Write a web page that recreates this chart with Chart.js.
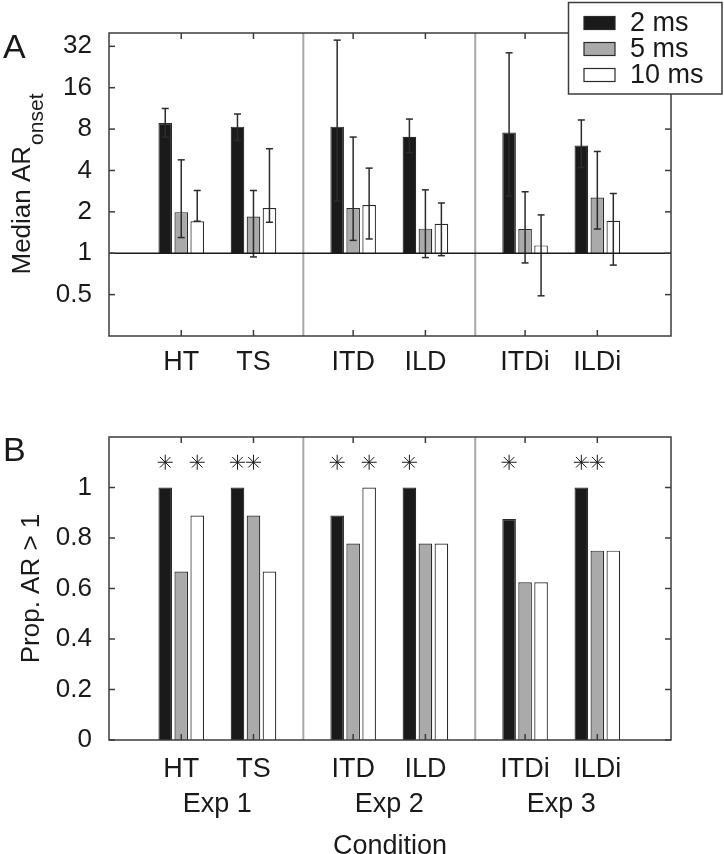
<!DOCTYPE html>
<html>
<head>
<meta charset="utf-8">
<title>Median AR onset and proportion AR > 1</title>
<script src="https://cdn.jsdelivr.net/npm/chart.js@4.4.1/dist/chart.umd.min.js"></script>
<style>
  html, body { margin: 0; padding: 0; background: #fff; }
  #wrap { position: relative; width: 724px; height: 854px; overflow: hidden; }
  canvas { position: absolute; left: 0; display: block; }
  #chartA { top: 0; }
  #chartB { top: 380px; }
</style>
</head>
<body>
<div id="wrap">
  <canvas id="chartA" width="724" height="380"></canvas>
  <canvas id="chartB" width="724" height="474"></canvas>
</div>
<script>
var FONT = "'Liberation Sans', Arial, Helvetica, sans-serif";
var INK = '#1a1a1a';
var AXIS = '#3c3c3c';

// conditions along x, grouped by experiment
var conditions = ['HT', 'TS', 'ITD', 'ILD', 'ITDi', 'ILDi'];
var condPos = [1, 2, 3.38, 4.38, 5.76, 6.76];
var experiments = ['Exp 1', 'Exp 2', 'Exp 3'];
var expPos = [1.5, 3.88, 6.26];
var expSplit = [2.69, 5.07];
var xMax = 7.78;

var seriesLabels = ['2 ms', '5 ms', '10 ms'];
var seriesFill = ['#1a1a1a', '#aaaaaa', '#ffffff'];

// panel A: median AR onset (log axis) with error bars
var median2 = [8.86, 8.33, 8.33, 7.04, 7.57, 6.08];
var median5 = [1.99, 1.85, 2.13, 1.51, 1.50, 2.54];
var median10 = [1.71, 2.13, 2.24, 1.64, 1.14, 1.72];
var errHi2 = [11.3, 10.3, 35.5, 9.46, 28.7, 9.32];
var errLo2 = [7.0, 6.6, 2.4, 5.4, 2.6, 4.2];
var errHi5 = [4.78, 2.86, 7.0, 2.89, 2.80, 5.5];
var errLo5 = [1.30, 0.94, 1.24, 0.93, 0.85, 1.50];
var errHi10 = [2.86, 5.76, 4.16, 2.32, 1.90, 2.72];
var errLo10 = [1.71, 1.68, 1.27, 0.96, 0.49, 0.82];
var yTicksA = [0.5, 1, 2, 4, 8, 16, 32];

// panel B: proportion AR > 1, asterisks mark significance
var prop2 = [1, 1, 0.889, 1, 0.875, 1];
var prop5 = [0.667, 0.889, 0.778, 0.778, 0.625, 0.75];
var prop10 = [0.889, 0.667, 1, 0.778, 0.625, 0.75];
var sig2 = [1, 1, 1, 1, 1, 1];
var sig5 = [0, 1, 0, 0, 0, 1];
var sig10 = [1, 0, 1, 0, 0, 0];
var yTicksB = [0, 0.2, 0.4, 0.6, 0.8, 1];
var starLevel = 1.1;

Chart.defaults.font.family = FONT;
Chart.defaults.color = INK;
Chart.defaults.animation = false;

function pts(vals) {
  return vals.map(function (v, i) { return { x: condPos[i], y: v }; });
}

function ticksAt(list) {
  return function (scale) {
    scale.ticks = list.map(function (v) { return { value: v }; });
  };
}

function line(ctx, x1, y1, x2, y2) {
  ctx.beginPath();
  ctx.moveTo(x1, y1);
  ctx.lineTo(x2, y2);
  ctx.stroke();
}

var barStyle = {
  borderColor: '#2a2a2a',
  borderWidth: 1.2,
  categoryPercentage: 0.664,
  barPercentage: 0.85
};

function makeSet(i, vals, extra) {
  return Object.assign({
    label: seriesLabels[i],
    data: pts(vals),
    backgroundColor: seriesFill[i]
  }, barStyle, extra);
}

function condAxis(pad) {
  return {
    type: 'linear', min: 0, max: xMax, offset: false,
    grid: { display: false, offset: false },
    border: { display: false },
    afterBuildTicks: ticksAt(condPos),
    afterFit: function (s) { s.height = 44; },
    ticks: {
      autoSkip: false, maxRotation: 0, padding: pad,
      font: { size: 27 },
      callback: function (v, i) { return conditions[i]; }
    }
  };
}

var panelPlugin = {
  id: 'panel',
  beforeDatasetsDraw: function (chart) {
    var a = chart.chartArea, ctx = chart.ctx, x = chart.scales.x;
    ctx.save();
    ctx.strokeStyle = '#a8a8a8';
    ctx.lineWidth = 2;
    expSplit.forEach(function (v) {
      var px = x.getPixelForValue(v);
      line(ctx, px, a.top, px, a.bottom);
    });
    ctx.restore();
  },
  afterDatasetsDraw: function (chart, args, opts) {
    var a = chart.chartArea, ctx = chart.ctx, x = chart.scales.x, y = chart.scales.y;
    ctx.save();
    chart.data.datasets.forEach(function (ds, di) {
      chart.getDatasetMeta(di).data.forEach(function (bar, i) {
        if (ds.errHi) {
          var top = y.getPixelForValue(ds.errHi[i]);
          var bot = y.getPixelForValue(ds.errLo[i]);
          ctx.strokeStyle = '#2b2b2b';
          ctx.lineWidth = 1.5;
          line(ctx, bar.x, top, bar.x, bot);
          line(ctx, bar.x - 3.5, top, bar.x + 3.5, top);
          line(ctx, bar.x - 3.5, bot, bar.x + 3.5, bot);
        }
        if (ds.sig && ds.sig[i]) {
          ctx.strokeStyle = INK;
          ctx.fillStyle = INK;
          Chart.helpers.drawPoint(ctx, { pointStyle: 'star', radius: 7.5, borderWidth: 2, rotation: 0 },
            bar.x, y.getPixelForValue(starLevel));
        }
      });
    });
    if (opts.refLine) {
      var ry = y.getPixelForValue(opts.refLine);
      ctx.strokeStyle = INK;
      ctx.lineWidth = 1.5;
      line(ctx, a.left, ry, a.right, ry);
    }
    // box and inward tick marks
    ctx.strokeStyle = AXIS;
    ctx.lineWidth = 1.5;
    ctx.strokeRect(a.left, a.top, a.width, a.height);
    var L = 6;
    x.ticks.forEach(function (t, i) {
      var px = x.getPixelForTick(i);
      line(ctx, px, a.top, px, a.top + L);
      line(ctx, px, a.bottom, px, a.bottom - L);
    });
    y.ticks.forEach(function (t, i) {
      var py = y.getPixelForTick(i);
      line(ctx, a.left, py, a.left + L, py);
      line(ctx, a.right, py, a.right - L, py);
    });
    ctx.restore();
  },
  afterDraw: function (chart, args, opts) {
    var a = chart.chartArea, ctx = chart.ctx;
    ctx.save();
    ctx.fillStyle = INK;
    ctx.textBaseline = 'alphabetic';
    ctx.textAlign = 'left';
    ctx.font = '34px ' + FONT;
    ctx.fillText(opts.letter, 3, opts.letterY);

    if (opts.yTitle) {
      var main = opts.yTitle[0], sub = opts.yTitle[1];
      ctx.font = '26px ' + FONT;
      var w1 = ctx.measureText(main).width;
      ctx.font = '21px ' + FONT;
      var w2 = ctx.measureText(sub).width;
      ctx.translate(29.5, (a.top + a.bottom) / 2);
      ctx.rotate(-Math.PI / 2);
      var x0 = -(w1 + w2) / 2;
      ctx.font = '26px ' + FONT;
      ctx.fillText(main, x0, 0);
      ctx.font = '21px ' + FONT;
      ctx.fillText(sub, x0 + w1 + 1, 13.5);
      ctx.setTransform(1, 0, 0, 1, 0, 0);
    }

    if (opts.legend) {
      var b = opts.legend;
      ctx.fillStyle = '#ffffff';
      ctx.fillRect(b.x, b.y, b.w, b.h);
      ctx.strokeStyle = AXIS;
      ctx.lineWidth = 1.5;
      ctx.strokeRect(b.x, b.y, b.w, b.h);
      chart.data.datasets.forEach(function (ds, i) {
        var cy = b.row0 + b.step * i;
        ctx.fillStyle = ds.backgroundColor;
        ctx.fillRect(b.x + 15.5, cy - 6.5, 31, 13);
        ctx.strokeStyle = '#2a2a2a';
        ctx.lineWidth = 1.2;
        ctx.strokeRect(b.x + 15.5, cy - 6.5, 31, 13);
        ctx.fillStyle = INK;
        ctx.font = '27px ' + FONT;
        ctx.textBaseline = 'middle';
        ctx.fillText(ds.label, b.x + 61.5, cy + 1);
      });
    }
    ctx.restore();
  }
};

var chartA = new Chart(document.getElementById('chartA'), {
  type: 'bar',
  data: {
    datasets: [
      makeSet(0, median2, { base: 1, errLo: errLo2, errHi: errHi2 }),
      makeSet(1, median5, { base: 1, errLo: errLo5, errHi: errHi5 }),
      makeSet(2, median10, { base: 1, errLo: errLo10, errHi: errHi10 })
    ]
  },
  plugins: [panelPlugin],
  options: {
    responsive: false,
    layout: { padding: { top: 33, right: 53, left: 0, bottom: 0 } },
    plugins: {
      legend: { display: false },
      tooltip: { enabled: false },
      panel: {
        letter: 'A', letterY: 57.5, refLine: 1,
        yTitle: ['Median AR', 'onset'],
        legend: { x: 568.5, y: 2.5, w: 153.5, h: 91.5, row0: 23, step: 26 }
      }
    },
    scales: {
      x: condAxis(2),
      y: {
        type: 'logarithmic', min: 0.25, max: 40,
        grid: { display: false },
        border: { display: false },
        afterBuildTicks: ticksAt(yTicksA),
        afterFit: function (s) { s.width = 109; },
        ticks: {
          autoSkip: false, padding: 9,
          font: { size: 26 },
          callback: function (v) { return String(v); }
        }
      }
    }
  }
});

var chartB = new Chart(document.getElementById('chartB'), {
  type: 'bar',
  data: {
    datasets: [
      makeSet(0, prop2, { sig: sig2 }),
      makeSet(1, prop5, { sig: sig5 }),
      makeSet(2, prop10, { sig: sig10 })
    ]
  },
  plugins: [panelPlugin],
  options: {
    responsive: false,
    layout: { padding: { top: 57, right: 53, left: 0, bottom: 0 } },
    plugins: {
      legend: { display: false },
      tooltip: { enabled: false },
      panel: { letter: 'B', letterY: 80.5 }
    },
    scales: {
      x: condAxis(5),
      x2: {
        type: 'linear', position: 'bottom', weight: 1,
        min: 0, max: xMax, offset: false,
        grid: { display: false, offset: false },
        border: { display: false },
        afterBuildTicks: ticksAt(expPos),
        afterFit: function (s) { s.height = 70; },
        ticks: {
          autoSkip: false, maxRotation: 0, padding: -4,
          font: { size: 27 },
          callback: function (v, i) { return experiments[i]; }
        },
        title: {
          display: true, text: 'Condition',
          font: { size: 27, lineHeight: 0.85 },
          padding: { top: 0, bottom: -4 }
        }
      },
      y: {
        type: 'linear', min: 0, max: 1.2,
        grid: { display: false },
        border: { display: false },
        afterBuildTicks: ticksAt(yTicksB),
        afterFit: function (s) { s.width = 109; },
        ticks: {
          autoSkip: false, padding: 9,
          font: { size: 26 },
          callback: function (v) { return String(v); }
        },
        title: {
          display: true, text: 'Prop. AR > 1',
          font: { size: 26 },
          padding: { top: 16, bottom: 0 }
        }
      }
    }
  }
});
</script>
</body>
</html>
